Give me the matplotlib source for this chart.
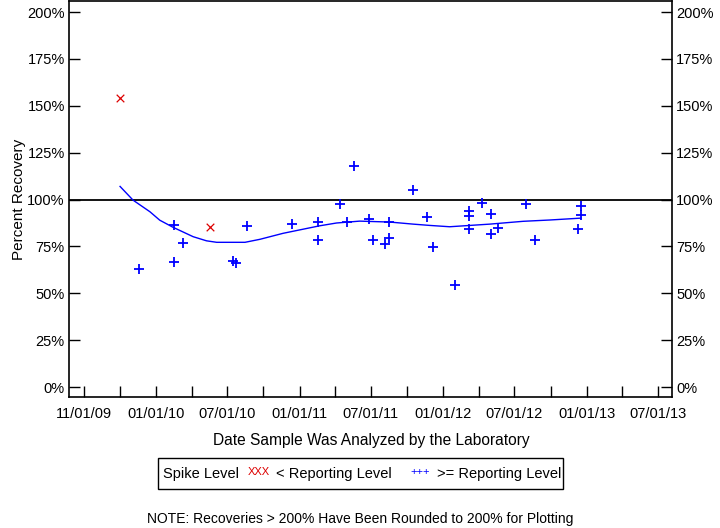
import numpy as np
import pandas as pd
import matplotlib
matplotlib.use("Agg")
import matplotlib.pyplot as plt
import matplotlib.dates as mdates
from matplotlib.patches import Rectangle

plt.rcParams['font.family'] = ['Liberation Sans', 'DejaVu Sans']

# samples below reporting level (red x)
low_dates = ["2009-10-01", "2010-05-18"]
low_vals = [154.3, 85.2]

# samples at / above reporting level (blue +)
high_dates = ["2009-11-18", "2010-02-15", "2010-02-15", "2010-03-10", "2010-07-15",
              "2010-07-22", "2010-08-20", "2010-12-13", "2011-02-16", "2011-02-16",
              "2011-04-14", "2011-05-01", "2011-05-19", "2011-06-27", "2011-07-06",
              "2011-08-06", "2011-08-16", "2011-08-16", "2011-10-16", "2011-11-22",
              "2011-12-06", "2012-01-31", "2012-03-06", "2012-03-06", "2012-03-06",
              "2012-04-10", "2012-05-02", "2012-05-02", "2012-05-21", "2012-07-31",
              "2012-08-23", "2012-12-10", "2012-12-18", "2012-12-18"]
high_vals = [62.8, 86.4, 66.5, 76.6, 67.0,
             66.3, 85.9, 86.8, 88.2, 78.2,
             97.4, 88.0, 118.0, 89.9, 78.2,
             76.4, 88.2, 79.6, 104.9, 90.7,
             74.5, 54.6, 94.0, 91.4, 84.3,
             98.1, 92.3, 81.8, 84.6, 97.4,
             78.2, 84.4, 96.5, 91.6]

# smoothed trend
trend_dates = ["2009-10-01", "2009-11-03", "2009-12-16", "2010-01-10", "2010-02-13",
               "2010-04-05", "2010-05-09", "2010-06-04", "2010-08-15", "2010-09-22",
               "2010-11-20", "2011-02-21", "2011-04-05", "2011-06-03", "2011-08-19",
               "2011-10-17", "2011-11-29", "2012-01-18", "2012-03-09", "2012-04-29",
               "2012-07-23", "2012-09-29", "2012-12-17"]
trend_vals = [107.0, 99.7, 93.5, 89.0, 85.2,
              80.2, 78.0, 77.2, 77.2, 78.8,
              82.0, 86.0, 87.5, 88.5, 88.0,
              86.9, 86.2, 85.5, 86.2, 86.9,
              88.4, 89.1, 90.1]

tick_dates = ["2009-07-01", "2010-01-01", "2010-07-01", "2011-01-01", "2011-07-01",
              "2012-01-01", "2012-07-01", "2013-01-01", "2013-07-01"]
tick_labels = ["11/01/09", "01/01/10", "07/01/10", "01/01/11", "07/01/11",
               "01/01/12", "07/01/12", "01/01/13", "07/01/13"]
y_ticks = [0, 25, 50, 75, 100, 125, 150, 175, 200]

fig = plt.figure(figsize=(7.2, 5.28), dpi=100)
ax = fig.add_axes([69/720, 1 - 397/528, (672 - 69)/720, (397 - 1)/528])

d = lambda s: mdates.date2num(pd.to_datetime(s))

ax.axhline(100, color='black', lw=1.3, zorder=1)
ax.plot(d(trend_dates), trend_vals, color='blue', lw=1.0, zorder=2)
ax.scatter(d(high_dates), high_vals, marker='+', s=60, color='blue', linewidths=1.3, zorder=3)
ax.scatter(d(low_dates), low_vals, marker='x', s=30, color='#dd0000', linewidths=0.9, zorder=3)

tk = d(tick_dates)
ax.set_xlim(d("2009-05-24"), d("2013-08-06"))
ax.set_ylim(-5.3, 205.9)
ax.set_xticks(tk)
ax.set_xticklabels(tick_labels)
ax.set_xticks((tk[:-1] + tk[1:]) / 2, minor=True)
ax.tick_params(axis='x', which='both', direction='in', length=8, width=1, labelsize=10.5, pad=7)

ax.set_yticks(y_ticks)
ax.set_yticklabels([f"{v}%" for v in y_ticks])
ax.tick_params(axis='y', direction='in', length=8, width=1, labelsize=10.5,
               right=True, labelright=True, pad=3)
for s in ax.spines.values():
    s.set_linewidth(1.2)

ax.set_ylabel("Percent Recovery", fontsize=11, labelpad=1)
fig.text(371/720, 1 - 440/528, "Date Sample Was Analyzed by the Laboratory",
         ha='center', va='center', fontsize=11.2)

# legend box
fig.patches.append(Rectangle((158/720, 1 - 489/528), (563 - 158)/720, 31/528,
                             transform=fig.transFigure, fill=False, edgecolor='black', lw=1))
ly = 1 - 474/528
fig.text(163/720, ly, "Spike Level", ha='left', va='center', fontsize=10.5)
fig.text(248/720, ly + 0.004, "XXX", ha='left', va='center', fontsize=8, color='#dd0000')
fig.text(276/720, ly, "< Reporting Level", ha='left', va='center', fontsize=10.5)
fig.text(410/720, ly + 0.004, "+++", ha='left', va='center', fontsize=8, color='blue')
fig.text(437/720, ly, ">= Reporting Level", ha='left', va='center', fontsize=10.5)

fig.text(360/720, 1 - 519/528, "NOTE: Recoveries > 200% Have Been Rounded to 200% for Plotting",
         ha='center', va='center', fontsize=10)

fig.savefig("out.png", dpi=100)
